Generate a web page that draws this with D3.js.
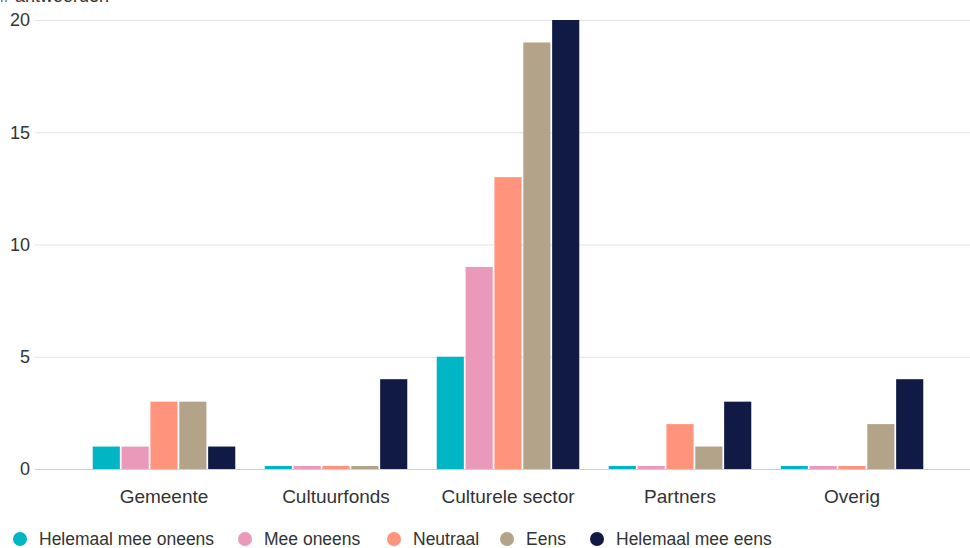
<!DOCTYPE html>
<html>
<head>
<meta charset="utf-8">
<script src="https://cdn.jsdelivr.net/npm/d3@7"></script>
<style>
  body { margin: 0; background: #fff; }
  #chart { width: 970px; height: 548px; }
  text { font-family: "Liberation Sans", Arial, sans-serif; fill: #333; }
</style>
</head>
<body>
<div id="chart"></div>
<script>
const categories = ["Gemeente", "Cultuurfonds", "Culturele sector", "Partners", "Overig"];
const seriesNames = ["Helemaal mee oneens", "Mee oneens", "Neutraal", "Eens", "Helemaal mee eens"];
const seriesColors = ["#00b5c4", "#ea99bb", "#ff937c", "#b3a389", "#111a45"];
const values = [
    [1, 0, 5, 0, 0],   // Helemaal mee oneens
    [1, 0, 9, 0, 0],   // Mee oneens
    [3, 0, 13, 2, 0],  // Neutraal
    [3, 0, 19, 1, 2],  // Eens
    [1, 4, 20, 3, 4]   // Helemaal mee eens
];
const yTicks = [0, 5, 10, 15, 20];
const yTitle = "# antwoorden";

function renderChart(containerSelector) {
    const container = d3.select(containerSelector);
    const width = 970;
    const height = 548;
    const margin = { top: 20, right: 32, bottom: 79, left: 78 };

    const svg = container.append("svg")
        .attr("width", width)
        .attr("height", height);

    const x0 = d3.scaleBand()
        .domain(categories)
        .range([margin.left, width - margin.right])
        .padding(0);

    const x1 = d3.scaleBand()
        .domain(seriesNames)
        .range([13, x0.bandwidth() - 13])
        .padding(0.06);

    const y = d3.scaleLinear()
        .domain([0, 20])
        .range([height - margin.bottom, margin.top]);

    // grid
    const grid = svg.append("g")
        .attr("transform", `translate(35,0)`)
        .call(d3.axisLeft(y).tickValues(yTicks).tickSize(-(width - 35)).tickFormat(""));
    grid.select(".domain").remove();
    grid.selectAll("line").attr("stroke", d => d === 0 ? "#cfcfcf" : "#e3e3e3").attr("stroke-width", 1);

    // y tick labels
    svg.append("g")
        .selectAll("text")
        .data(yTicks)
        .join("text")
        .attr("x", 30)
        .attr("y", d => y(d))
        .attr("dy", "0.35em")
        .attr("text-anchor", "end")
        .style("font-size", "18px")
        .text(d => d);

    // axis title, partly above the top edge as in the original
    svg.append("text")
        .attr("x", 0)
        .attr("y", 2)
        .style("font-size", "18px")
        .text(yTitle);

    // bars (zero values keep a thin 3px stub)
    const rows = categories.map((c, ci) => seriesNames.map((s, si) => ({ cat: c, series: s, si, v: values[si][ci] })));
    svg.append("g")
        .selectAll("g")
        .data(rows)
        .join("g")
        .attr("transform", (d, i) => `translate(${x0(categories[i])},0)`)
        .selectAll("rect")
        .data(d => d)
        .join("rect")
        .attr("x", d => x1(d.series))
        .attr("width", x1.bandwidth())
        .attr("y", d => Math.min(y(d.v), y(0) - 3))
        .attr("height", d => Math.max(y(0) - y(d.v), 3))
        .attr("fill", d => seriesColors[d.si]);

    // x labels
    svg.append("g")
        .selectAll("text")
        .data(categories)
        .join("text")
        .attr("x", d => x0(d) + x0.bandwidth() / 2)
        .attr("y", 503)
        .attr("text-anchor", "middle")
        .style("font-size", "19px")
        .text(d => d);

    // legend
    const legendX = [20, 245, 394, 507, 597];
    const legend = svg.append("g")
        .selectAll("g")
        .data(seriesNames)
        .join("g")
        .attr("transform", (d, i) => `translate(${legendX[i]},539)`);
    legend.append("circle")
        .attr("r", 7)
        .attr("fill", (d, i) => seriesColors[i]);
    legend.append("text")
        .attr("x", 19)
        .attr("dy", "0.35em")
        .style("font-size", "17.5px")
        .text(d => d);
}

renderChart("#chart");
</script>
</body>
</html>
